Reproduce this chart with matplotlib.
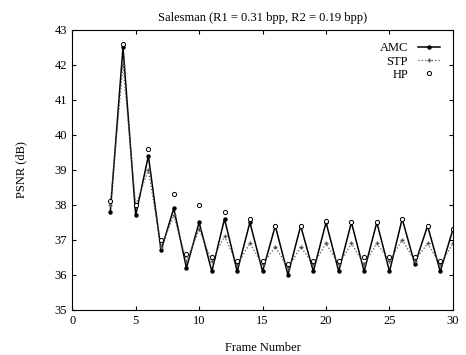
import matplotlib
matplotlib.use("Agg")
import matplotlib.pyplot as plt

# frame numbers and PSNR (dB)
frames = list(range(3, 31))
amc = [37.8, 42.5, 37.7, 39.4, 36.7, 37.9, 36.2, 37.5, 36.1, 37.6,
       36.1, 37.5, 36.1, 37.4, 36.0, 37.4, 36.1, 37.5, 36.1, 37.5,
       36.1, 37.5, 36.1, 37.6, 36.3, 37.4, 36.1, 37.3]
stp = [38.0, 42.0, 38.0, 39.0, 36.8, 37.7, 36.4, 37.3, 36.4, 37.1,
       36.3, 36.9, 36.3, 36.8, 36.2, 36.8, 36.3, 36.9, 36.3, 36.9,
       36.3, 36.9, 36.4, 37.0, 36.4, 36.9, 36.3, 36.9]
hp = [38.1, 42.6, 38.0, 39.6, 37.0, 38.3, 36.6, 38.0, 36.5, 37.8,
      36.4, 37.6, 36.4, 37.4, 36.3, 37.4, 36.4, 37.55, 36.4, 37.5,
      36.5, 37.5, 36.5, 37.6, 36.5, 37.4, 36.4, 37.3]

xticks = [0, 5, 10, 15, 20, 25, 30]
yticks = [35, 36, 37, 38, 39, 40, 41, 42, 43]

plt.rcParams["font.family"] = ["Liberation Serif", "DejaVu Serif"]

fig = plt.figure(figsize=(4.66, 3.55), dpi=100)
ax = fig.add_axes([0.155, 0.127, 0.817, 0.789])

ax.plot(frames, amc, color="black", linewidth=1.1, marker="o",
        markersize=2.2, label="AMC")
ax.plot(frames, stp, color="#555555", linewidth=0.9, linestyle=":",
        marker="+", markersize=3, label="STP")
ax.plot(frames, hp, color="black", linestyle="none", marker="o",
        markersize=3, markerfacecolor="white", markeredgewidth=0.7,
        label="HP")

ax.set_xlim(0, 30)
ax.set_ylim(35, 43)
ax.set_xticks(xticks)
ax.set_yticks(yticks)
ax.tick_params(direction="in", top=True, right=True, labelsize=9, length=3)
for s in ax.spines.values():
    s.set_linewidth(0.8)

ax.set_title("Salesman (R1 = 0.31 bpp, R2 = 0.19 bpp)", fontsize=9, pad=6)
ax.set_xlabel("Frame Number", fontsize=9, labelpad=11)
ax.set_ylabel("PSNR (dB)", fontsize=9, labelpad=20)

ax.legend(loc="upper right", frameon=False, markerfirst=False, fontsize=9,
          handlelength=1.8, labelspacing=0.1, borderaxespad=0.6)

fig.savefig("out.png", dpi=100)
